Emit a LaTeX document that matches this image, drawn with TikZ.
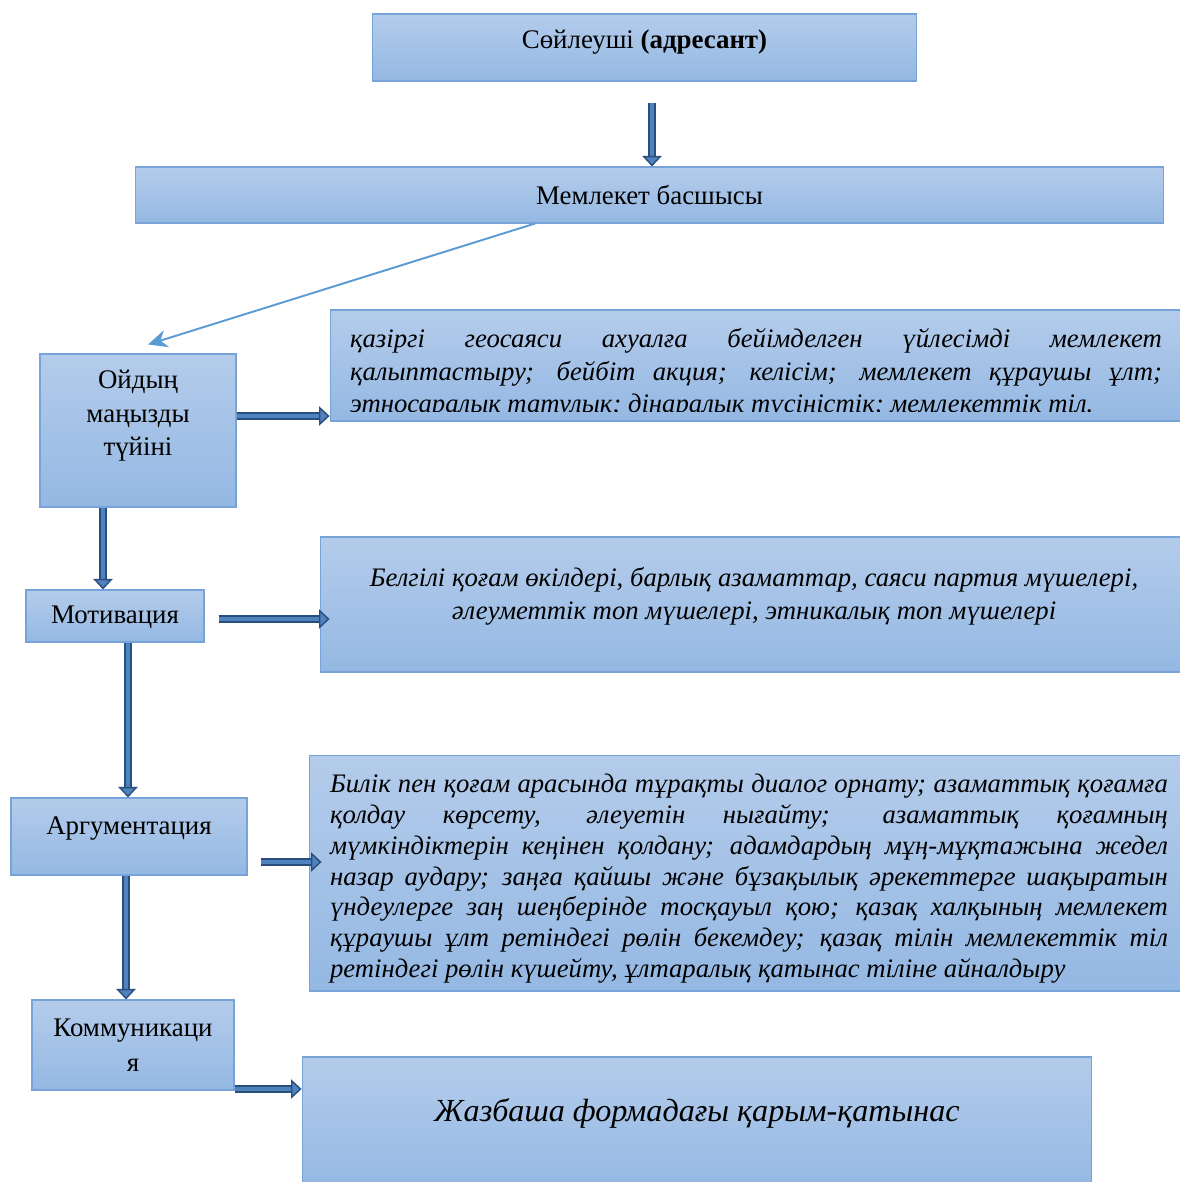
\documentclass[tikz,border=0pt]{standalone}
\usepackage{fontspec}
\setmainfont{Liberation Serif}
\usetikzlibrary{arrows.meta}

\definecolor{boxtop}{RGB}{180,204,235}
\definecolor{boxbot}{RGB}{148,184,227}
\definecolor{boxline}{RGB}{120,163,216}
\definecolor{arrowdark}{RGB}{40,78,125}
\definecolor{arrowfill}{RGB}{80,130,190}
\definecolor{diagline}{RGB}{91,155,213}

\tikzset{
  panel/.style={rectangle, draw=boxline, line width=0.6pt, top color=boxtop, bottom color=boxbot, inner sep=0pt},
  blockarrow/.style={draw=arrowdark, line width=0.9pt, double=arrowfill, double distance=2.7pt,
    -{Triangle[length=6pt, width=11pt, fill=arrowfill, line width=0.8pt]}},
  thinarrow/.style={draw=diagline, line width=1.1pt, -{Stealth[length=11pt, width=10pt]}},
  boxtext/.style={font=\fontsize{15.3}{19}\selectfont, align=center, inner sep=0pt},
  itext/.style={font=\fontsize{15.2}{17.5}\selectfont\itshape, inner sep=0pt}
}

\begin{document}
\begin{tikzpicture}[x=0.02cm, y=-0.02cm]
  \useasboundingbox[fill=white] (0,0) rectangle (1179,1182);

  \node[panel, minimum width=10.9cm, minimum height=1.34cm] (speaker) at (644.5,47.5) {};
  \node[boxtext] (speakertext) at (644.5,42) {Сөйлеуші \textbf{(адресант)}};

  \node[panel, minimum width=20.58cm, minimum height=1.12cm] (head) at (649.5,195) {};
  \node[boxtext] (headtext) at (649.5,195) {Мемлекет басшысы};

  \node[panel, minimum width=3.92cm, minimum height=3.06cm] (idea) at (138,430.5) {};
  \node[boxtext, font=\fontsize{15.3}{19}\selectfont] (ideatitle) at (138,416) {Ойдың\\маңызды\\түйіні};

  \node[panel, minimum width=17.04cm, minimum height=2.22cm] (ideabox) at (756,365.5) {};
  \begin{scope}
    \clip (ideabox.north west) rectangle ([yshift=0.2cm]ideabox.south east);
    \node[itext, font=\fontsize{15.2}{18.4}\selectfont\itshape, text width=16.24cm, align=justify, anchor=north] (ideatext) at (756,328.5)
      {қазіргі геосаяси ахуалға бейімделген үйлесімді мемлекет\linebreak
       қалыптастыру; бейбіт акция; келісім; мемлекет құраушы ұлт;\linebreak
       этносаралық татулық; дінаралық түсіністік; мемлекеттік тіл.};
  \end{scope}

  \node[panel, minimum width=3.56cm, minimum height=1.04cm] (motiv) at (115,616) {};
  \node[boxtext] (motivtext) at (115,617) {Мотивация};

  \node[panel, minimum width=17.36cm, minimum height=2.7cm] (motivbox) at (754,604.5) {};
  \node[itext, font=\fontsize{15.2}{18.7}\selectfont\itshape, align=center] (motivtext2) at (754,596)
    {Белгілі қоғам өкілдері, барлық азаматтар, саяси партия мүшелері,\\
     әлеуметтік топ мүшелері, этникалық топ мүшелері};

  \node[panel, minimum width=4.72cm, minimum height=1.54cm] (argum) at (129,836.5) {};
  \node[boxtext] (argumtext) at (129,829) {Аргументация};

  \node[panel, minimum width=17.6cm, minimum height=4.72cm] (argumbox) at (749,873) {};
  \node[itext, text width=16.76cm, align=justify, anchor=north] (argumtext2) at (749,774)
    {Билік пен қоғам арасында тұрақты диалог орнату; азаматтық қоғамға\linebreak
     қолдау көрсету, әлеуетін нығайту; азаматтық қоғамның\linebreak
     мүмкіндіктерін кеңінен қолдану; адамдардың мұң-мұқтажына жедел\linebreak
     назар аудару; заңға қайшы және бұзақылық әрекеттерге шақыратын\linebreak
     үндеулерге заң шеңберінде тосқауыл қою; қазақ халқының мемлекет\linebreak
     құраушы ұлт ретіндегі рөлін бекемдеу; қазақ тілін мемлекеттік тіл\linebreak
     ретіндегі рөлін күшейту, ұлтаралық қатынас тіліне айналдыру};

  \node[panel, minimum width=4.04cm, minimum height=1.8cm] (comm) at (133,1045) {};
  \node[boxtext, font=\fontsize{15.3}{19.9}\selectfont] (commtext) at (133,1045.5) {Коммуникаци\\я};

  \node[panel, minimum width=15.8cm, minimum height=2.66cm] (commbox) at (697,1123.5) {};
  \node[itext, font=\fontsize{18.3}{22}\selectfont\itshape] (commtext2) at (697,1113) {Жазбаша формадағы қарым-қатынас};

  \coordinate (sa) at ([xshift=0.15cm, yshift=-0.42cm]speaker.south);
  \coordinate (ia) at ([yshift=0.29cm]idea.east);
  \coordinate (ib) at ([xshift=-0.7cm]idea.south);
  \coordinate (mb) at ([shift={(0.28cm,-0.06cm)}]motiv.east);
  \coordinate (mc) at ([xshift=0.26cm]motiv.south);
  \coordinate (ad) at ([shift={(0.26cm,-0.51cm)}]argum.east);
  \coordinate (ae) at ([xshift=-0.06cm]argum.south);
  \coordinate (cf) at ([yshift=-0.88cm]comm.east);

  \draw[blockarrow] (sa) -- (sa |- head.north);
  \draw[thinarrow] ([xshift=-2.29cm]head.south) -- ([shift={(0.2cm,0.18cm)}]idea.north);
  \draw[blockarrow] (ia) -- (ia -| ideabox.west);
  \draw[blockarrow] (ib) -- (ib |- motiv.north);
  \draw[blockarrow, shorten >=-0.2cm] (mb) -- (mb -| motivbox.west);
  \draw[blockarrow] (mc) -- (mc |- argum.north);
  \draw[blockarrow, shorten >=-0.26cm] (ad) -- (ad -| argumbox.west);
  \draw[blockarrow] (ae) -- (ae |- comm.north);
  \draw[blockarrow] (cf) -- (cf -| commbox.west);
\end{tikzpicture}
\end{document}
